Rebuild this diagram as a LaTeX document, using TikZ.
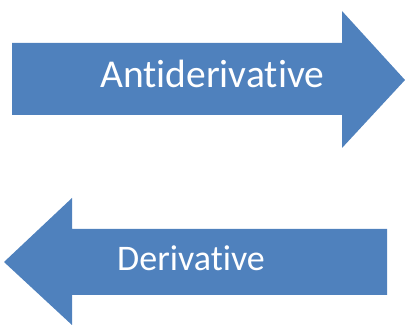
\documentclass[tikz,border=0pt]{standalone}
\usepackage{fontspec}
\setmainfont[Ligatures={NoCommon}]{Carlito}
\definecolor{arrowblue}{HTML}{4F81BD}
\begin{document}
\begin{tikzpicture}[x=1pt,y=-1pt,
  arrowshape/.style={fill=arrowblue,draw=none},
  arrowlabel/.style={text=white,inner sep=0pt,anchor=base west}]
\useasboundingbox (0,0) rectangle (405,326);
\fill[arrowshape] (12,43) -- (342,43) -- (342,11) -- (405,80) -- (342,148) -- (342,115) -- (12,115) -- cycle;
\fill[arrowshape] (387,229) -- (72,229) -- (72,198) -- (4,262) -- (72,325) -- (72,295) -- (387,295) -- cycle;
\node[arrowlabel,font=\fontsize{39.5}{46}\selectfont] (anti) at (100,88) {Antiderivative};
\node[arrowlabel,font=\fontsize{36}{42}\selectfont] (deriv) at (117,271) {Derivative};
\end{tikzpicture}
\end{document}
